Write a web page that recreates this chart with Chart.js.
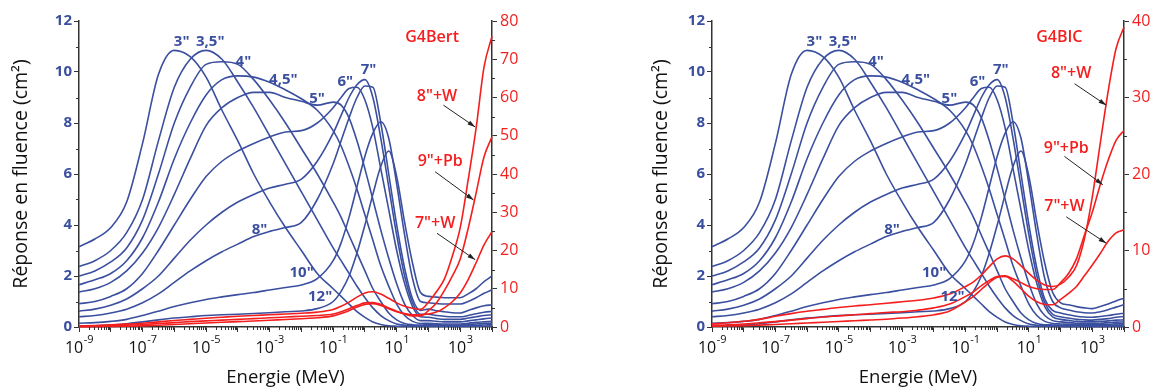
<!DOCTYPE html>
<html>
<head>
<meta charset="utf-8">
<script src="https://cdn.jsdelivr.net/npm/chart.js@4.4.1/dist/chart.umd.min.js"></script>
<style>
  html, body { margin: 0; padding: 0; background: #fff; }
  #wrap { display: flex; width: 1154px; height: 389px; }
  .panel { position: relative; width: 577px; height: 389px; }
</style>
</head>
<body>
<div id="wrap">
  <div class="panel"><canvas id="bert"></canvas></div>
  <div class="panel"><canvas id="bic"></canvas></div>
</div>
<script>
/* =====================================
   DATA
======================================== */

// energy grid (MeV)
const energies = [1e-9, 3.16e-9, 1e-8, 3.16e-8, 1e-7, 3.16e-7, 1e-6, 3.16e-6, 1e-5, 3.16e-5,
  1e-4, 3.16e-4, 1e-3, 3.16e-3, 0.01, 0.0316, 0.1, 0.178, 0.316, 0.562, 1, 1.78, 3.16, 5.62,
  10, 17.8, 31.6, 56.2, 100, 178, 316, 562, 1000, 1780, 3160, 5620, 10000];

// sphere responses up to 56 MeV (same in both panels)
const sphere3  = [3.15,3.45,3.9,4.9,7.2,9.9,10.85,10.6,9.8,8.5,7.3,6.0,4.9,3.9,3.0,2.1,1.5,1.2,0.9,0.6,0.38,0.2,0.1,0.05,0.03,0.02,0.02,0.02];
const sphere35 = [2.37,2.6,3.0,3.7,5.0,7.3,9.4,10.5,10.85,10.5,9.6,8.6,7.5,6.4,5.3,4.2,3.1,2.6,2.1,1.6,1.15,0.75,0.45,0.25,0.12,0.07,0.05,0.05];
const sphere4  = [2.0,2.2,2.55,3.1,4.2,6.0,8.0,9.4,10.3,10.4,10.3,9.7,8.9,8.0,7.0,6.0,4.9,4.3,3.6,2.9,2.2,1.5,1.0,0.55,0.28,0.14,0.09,0.08];
const sphere45 = [1.66,1.85,2.1,2.6,3.5,4.9,6.6,8.0,9.1,9.7,9.85,9.8,9.6,9.3,8.95,8.5,7.7,7.1,6.3,5.4,4.4,3.4,2.4,1.6,0.9,0.45,0.22,0.14];
const sphere5  = [1.37,1.5,1.75,2.2,2.9,3.9,5.2,6.6,7.9,8.6,9.0,9.2,9.2,9.0,8.85,8.7,8.82,8.7,8.2,7.3,6.2,5.0,3.8,2.7,1.7,0.9,0.45,0.25];
const sphere6  = [0.91,1.0,1.2,1.5,2.1,3.0,4.0,5.0,5.9,6.5,6.9,7.2,7.45,7.65,7.7,8.0,8.6,9.0,9.35,9.4,8.9,7.8,6.2,4.6,3.0,1.7,0.8,0.4];
const sphere7  = [0.62,0.7,0.85,1.1,1.5,2.0,2.7,3.4,4.0,4.5,4.9,5.2,5.45,5.6,5.8,6.5,7.6,8.3,9.0,9.5,9.7,9.0,7.4,5.5,3.6,2.0,0.95,0.5];
const sphere8  = [0.4,0.45,0.55,0.7,0.95,1.3,1.75,2.2,2.6,2.95,3.25,3.55,3.75,3.9,4.1,5.0,6.4,7.3,8.2,9.0,9.45,9.4,8.0,6.0,4.0,2.3,1.1,0.65];
const sphere10 = [0.15,0.17,0.22,0.3,0.45,0.62,0.8,0.95,1.08,1.18,1.27,1.35,1.45,1.55,1.65,1.9,2.6,3.3,4.3,5.5,6.7,7.6,8.05,7.4,5.6,3.6,1.9,1.0];
const sphere12 = [0.03,0.05,0.08,0.13,0.2,0.28,0.35,0.4,0.45,0.48,0.5,0.53,0.56,0.6,0.63,0.72,1.0,1.4,2.0,2.9,4.0,5.2,6.3,6.9,5.9,4.1,2.5,1.35];

// high energy tails, 100 MeV .. 10 GeV
const bertTail3  = [0.02,0.02,0.02,0.02,0.02,0.02,0.03,0.03,0.04];
const bertTail35 = [0.05,0.05,0.05,0.05,0.05,0.06,0.07,0.08,0.09];
const bertTail4  = [0.1,0.09,0.08,0.08,0.08,0.1,0.12,0.14,0.15];
const bertTail45 = [0.15,0.13,0.12,0.12,0.12,0.15,0.18,0.2,0.22];
const bertTail5  = [0.25,0.22,0.2,0.2,0.2,0.24,0.28,0.32,0.35];
const bertTail6  = [0.38,0.33,0.3,0.3,0.3,0.35,0.4,0.45,0.48];
const bertTail7  = [0.5,0.45,0.42,0.4,0.4,0.45,0.52,0.58,0.61];
const bertTail8  = [0.7,0.64,0.6,0.56,0.55,0.65,0.75,0.83,0.87];
const bertTail10 = [0.95,0.92,0.9,0.9,0.9,1.0,1.15,1.32,1.46];
const bertTail12 = [1.2,1.17,1.15,1.15,1.15,1.3,1.5,1.78,2.0];

const bicTail3  = [0.02,0.01,0.01,0.01,0.01,0.01,0.02,0.02,0.02];
const bicTail35 = [0.04,0.03,0.03,0.03,0.03,0.03,0.04,0.05,0.05];
const bicTail4  = [0.07,0.06,0.06,0.06,0.06,0.06,0.07,0.08,0.09];
const bicTail45 = [0.12,0.11,0.1,0.09,0.09,0.1,0.11,0.13,0.14];
const bicTail5  = [0.2,0.17,0.15,0.14,0.14,0.15,0.17,0.19,0.2];
const bicTail6  = [0.3,0.26,0.22,0.2,0.2,0.22,0.24,0.27,0.28];
const bicTail7  = [0.4,0.35,0.3,0.28,0.27,0.3,0.33,0.38,0.41];
const bicTail8  = [0.55,0.48,0.42,0.39,0.38,0.41,0.45,0.5,0.54];
const bicTail10 = [0.75,0.67,0.6,0.56,0.55,0.6,0.68,0.78,0.87];
const bicTail12 = [0.95,0.87,0.8,0.75,0.72,0.8,0.9,1.02,1.13];

// extended spheres (right axis)
const bertW8  = [0.3,0.4,0.55,0.75,1.0,1.35,1.7,2.0,2.3,2.55,2.8,3.0,3.2,3.4,3.6,3.9,
  4.6,5.4,6.5,7.8,8.9,9.2,8.6,7.5,6.3,5.4,4.9,4.6,6.5,9.2,12.5,18.5,26,38.5,52,68,76];
const bertPb9 = [0.15,0.2,0.3,0.45,0.65,0.9,1.15,1.4,1.6,1.8,2.0,2.2,2.4,2.6,2.8,3.0,
  3.4,4.0,4.8,5.6,6.3,6.4,5.9,5.0,4.1,3.4,2.9,2.9,4.3,6.3,9.5,13.3,17.8,25.8,35,44.5,49.7];
const bertW7  = [0.05,0.08,0.12,0.2,0.3,0.45,0.65,0.85,1.05,1.25,1.4,1.55,1.75,1.95,2.15,2.4,
  2.9,3.5,4.3,5.2,5.9,6.1,5.6,4.8,4.0,3.5,3.2,3.2,3.4,3.9,5.0,6.6,8.9,12.4,16.8,21.5,24.9];

const bicW8  = [0.4,0.55,0.75,1.0,1.4,1.75,2.05,2.3,2.55,2.75,2.9,3.1,3.3,3.5,3.8,4.3,
  5.3,5.9,6.8,7.9,8.9,9.3,8.9,8.0,7.0,6.1,5.5,5.3,5.6,6.5,8.0,11.5,17,24,30.8,36.4,39.2];
const bicPb9 = [0.25,0.3,0.4,0.55,0.7,0.9,1.1,1.3,1.45,1.6,1.75,1.9,2.0,2.2,2.5,3.0,
  4.0,4.6,5.4,6.1,6.6,6.7,6.3,5.8,5.3,5.0,4.9,4.9,5.8,7.0,8.9,12,15,18.6,21.8,24.4,25.7];
const bicW7  = [0.1,0.13,0.18,0.25,0.32,0.42,0.52,0.62,0.72,0.82,0.92,1.02,1.17,1.35,1.6,2.1,
  3.3,4.0,4.9,5.8,6.5,6.6,6.0,5.0,4.0,3.3,2.95,2.9,3.6,4.4,5.3,6.7,8.1,9.6,11.2,12.3,12.7];

// curve labels: text, energy, response
const sphereLabels = [
  ['3"', 1.7e-6, 11.2], ['3,5"', 1.35e-5, 11.2], ['4"', 1.5e-4, 10.4],
  ['4,5"', 2.7e-3, 9.68], ['5"', 0.031, 8.96], ['6"', 0.24, 9.61], ['7"', 1.3, 10.07],
  ['8"', 4.8e-4, 3.83], ['10"', 0.0102, 2.11], ['12"', 0.039, 1.2]
];

/* =====================================
   STYLE
======================================== */
const BLUE = '#3b4f9f';
const RED = '#f41e1e';
const FONT = "'Open Sans', 'DejaVu Sans', sans-serif";

function pts(arr) {
  return energies.map((e, i) => ({ x: e, y: arr[i] }));
}

function blueSet(arr) {
  return { data: pts(arr), borderColor: BLUE, borderWidth: 1.6, pointRadius: 0,
           cubicInterpolationMode: 'monotone', yAxisID: 'y', clip: 4 };
}

function redSet(arr) {
  return { data: pts(arr), borderColor: RED, borderWidth: 1.6, pointRadius: 0,
           cubicInterpolationMode: 'monotone', yAxisID: 'y2', clip: 4 };
}

// minor ticks, superscript x labels, curve labels and arrows
const decorPlugin = {
  id: 'decor',
  afterDraw(chart, args, opts) {
    const ctx = chart.ctx;
    const x = chart.scales.x, y = chart.scales.y, y2 = chart.scales.y2;
    const area = chart.chartArea;
    ctx.save();
    ctx.strokeStyle = '#333';
    ctx.lineWidth = 1;
    // x minor ticks
    for (let p = -9; p < 4; p++) {
      for (let m = 2; m <= 9; m++) {
        const px = Math.round(x.getPixelForValue(m * Math.pow(10, p))) + 0.5;
        ctx.beginPath(); ctx.moveTo(px, area.bottom); ctx.lineTo(px, area.bottom + 3); ctx.stroke();
      }
    }
    // y minor ticks
    for (let v = 1; v < 12; v += 2) {
      const py = Math.round(y.getPixelForValue(v)) + 0.5;
      ctx.beginPath(); ctx.moveTo(area.left, py); ctx.lineTo(area.left - 3, py); ctx.stroke();
    }
    for (let v = 5; v < y2.max; v += 10) {
      const py = Math.round(y2.getPixelForValue(v)) + 0.5;
      ctx.beginPath(); ctx.moveTo(area.right, py); ctx.lineTo(area.right + 3, py); ctx.stroke();
    }
    // x tick labels with superscripts
    ctx.fillStyle = '#111';
    ctx.textBaseline = 'alphabetic';
    for (let p = -9; p <= 3; p += 2) {
      const px = x.getPixelForValue(Math.pow(10, p));
      ctx.font = '16px ' + FONT;
      const wBase = ctx.measureText('10').width;
      ctx.font = '11px ' + FONT;
      const expTxt = p < 0 ? '-' + Math.abs(p) : String(p);
      const wExp = ctx.measureText(expTxt).width;
      const x0 = px - (wBase + wExp) / 2;
      ctx.font = '16px ' + FONT;
      ctx.textAlign = 'left';
      ctx.fillText('10', x0, 353);
      ctx.font = '11px ' + FONT;
      ctx.fillText(expTxt, x0 + wBase + 0.5, 343);
    }
    // sphere labels
    ctx.fillStyle = BLUE;
    ctx.font = 'bold 15px ' + FONT;
    ctx.textAlign = 'center';
    ctx.textBaseline = 'middle';
    sphereLabels.forEach(([t, e, v]) => {
      ctx.fillText(t, x.getPixelForValue(e), y.getPixelForValue(v));
    });
    // code name and extended sphere labels
    ctx.fillStyle = RED;
    ctx.font = '600 16px ' + FONT;
    opts.redLabels.forEach(([t, e, v]) => {
      ctx.fillText(t, x.getPixelForValue(e), y2.getPixelForValue(v));
    });
    // arrows
    ctx.strokeStyle = '#222';
    ctx.fillStyle = '#222';
    ctx.lineWidth = 1;
    opts.arrows.forEach(([e0, v0, e1, v1]) => {
      const ax = x.getPixelForValue(e0), ay = y2.getPixelForValue(v0);
      const bx = x.getPixelForValue(e1), by = y2.getPixelForValue(v1);
      const ang = Math.atan2(by - ay, bx - ax);
      ctx.beginPath(); ctx.moveTo(ax, ay); ctx.lineTo(bx, by); ctx.stroke();
      ctx.beginPath();
      ctx.moveTo(bx, by);
      ctx.lineTo(bx - 8 * Math.cos(ang - 0.3), by - 8 * Math.sin(ang - 0.3));
      ctx.lineTo(bx - 8 * Math.cos(ang + 0.3), by - 8 * Math.sin(ang + 0.3));
      ctx.closePath(); ctx.fill();
    });
    ctx.restore();
  }
};

function makeChart(id, cfg) {
  const sets = [
    redSet(cfg.w8), redSet(cfg.pb9), redSet(cfg.w7),
    blueSet(sphere3.concat(cfg.tails[0])), blueSet(sphere35.concat(cfg.tails[1])),
    blueSet(sphere4.concat(cfg.tails[2])), blueSet(sphere45.concat(cfg.tails[3])),
    blueSet(sphere5.concat(cfg.tails[4])), blueSet(sphere6.concat(cfg.tails[5])),
    blueSet(sphere7.concat(cfg.tails[6])), blueSet(sphere8.concat(cfg.tails[7])),
    blueSet(sphere10.concat(cfg.tails[8])), blueSet(sphere12.concat(cfg.tails[9]))
  ];
  return new Chart(document.getElementById(id), {
    type: 'line',
    data: { datasets: sets },
    options: {
      responsive: true,
      maintainAspectRatio: false,
      animation: false,
      events: [],
      layout: { padding: { top: 21, left: cfg.padLeft, right: 0, bottom: 0 } },
      plugins: {
        legend: { display: false },
        tooltip: { enabled: false },
        decor: { redLabels: cfg.redLabels, arrows: cfg.arrows }
      },
      scales: {
        x: {
          type: 'logarithmic', min: 1e-9, max: 1e4,
          afterBuildTicks: s => {
            s.ticks = [];
            for (let p = -9; p <= 4; p++) s.ticks.push({ value: Math.pow(10, p) });
          },
          afterFit: s => { s.height = 62; },
          ticks: { display: false },
          grid: { drawOnChartArea: false, tickLength: 5, color: '#333', tickWidth: 1 },
          border: { color: '#333', width: 1.5 },
          title: { display: true, text: 'Energie (MeV)', color: '#111',
                   font: { family: FONT, size: 18.5 }, padding: { top: 0, bottom: 0 } }
        },
        y: {
          position: 'left', min: 0, max: 12,
          afterFit: s => { s.width = cfg.leftW; },
          ticks: { stepSize: 2, color: BLUE, font: { family: FONT, size: 15, weight: 'bold' }, padding: 2 },
          grid: { drawOnChartArea: false, tickLength: 5, color: '#333' },
          border: { color: '#333', width: 1.5 },
          title: { display: true, text: 'Réponse en fluence (cm²)', color: '#111',
                   font: { family: FONT, size: 19.5 }, padding: { top: 10, bottom: 0 } }
        },
        y2: {
          position: 'right', min: 0, max: cfg.y2max,
          afterFit: s => { s.width = cfg.rightW; },
          ticks: { stepSize: 10, color: RED, font: { family: FONT, size: 16 }, padding: 3 },
          grid: { drawOnChartArea: false, tickLength: 5, color: '#333' },
          border: { color: '#333', width: 1.5 }
        }
      }
    },
    plugins: [decorPlugin]
  });
}

makeChart('bert', {
  w8: bertW8, pb9: bertPb9, w7: bertW7,
  tails: [bertTail3, bertTail35, bertTail4, bertTail45, bertTail5, bertTail6, bertTail7, bertTail8, bertTail10, bertTail12],
  y2max: 80, padLeft: 0, leftW: 79, rightW: 85,
  redLabels: [['G4Bert', 130, 75.8], ['8"+W', 186, 60.3], ['9"+Pb', 234, 43.2], ['7"+W', 162, 27.1]],
  arrows: [[295, 58, 2950, 52.3], [162, 40.6, 2630, 33.2], [186, 24.5, 2950, 17.6]]
});

makeChart('bic', {
  w8: bicW8, pb9: bicPb9, w7: bicW7,
  tails: [bicTail3, bicTail35, bicTail4, bicTail45, bicTail5, bicTail6, bicTail7, bicTail8, bicTail10, bicTail12],
  y2max: 40, padLeft: 63, leftW: 72, rightW: 30,
  redLabels: [['G4BIC', 91, 37.9], ['8"+W', 214, 33.1], ['9"+Pb', 151, 23.4], ['7"+W', 132, 15.7]],
  arrows: [[275, 31.8, 2750, 29.0], [132, 22.3, 2140, 18.6], [151, 14.4, 2750, 10.96]]
});
</script>
</body>
</html>
